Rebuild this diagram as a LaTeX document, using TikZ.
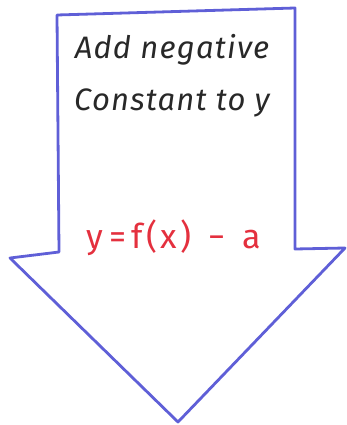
\documentclass[tikz,border=0pt]{standalone}
\usepackage{fontspec}
\setmainfont{Fira Sans}
\newfontfamily\wide[LetterSpace=4]{Fira Sans}
\newfontfamily\wider[LetterSpace=10]{Fira Sans}
\definecolor{penblue}{RGB}{95,95,215}
\definecolor{penred}{RGB}{228,48,62}
\definecolor{ink}{RGB}{40,40,40}
\begin{document}
\begin{tikzpicture}[x=1pt,y=-1pt,
  outline/.style={draw=penblue,line width=2.8pt,line join=round,line cap=round},
  label/.style={text=ink,font=\wide\fontsize{31}{36}\selectfont\itshape,inner sep=0pt},
  formula/.style={text=penred,font=\wider\fontsize{34}{38}\selectfont,inner sep=0pt}]
\useasboundingbox (0,0) rectangle (347,425);
\coordinate (tl) at (57,15);
\coordinate (tr) at (295,8);
\coordinate (rs) at (295,249);
\coordinate (rw) at (345,248);
\coordinate (tip) at (178,422);
\coordinate (lw) at (10,258);
\coordinate (ls) at (59,252);
\draw[outline] (tl) -- (tr) -- (rs) -- (rw) -- (tip) -- (lw) -- (ls) -- cycle;
\node[label] (l1) at (172,50) {Add negative};
\node[label] (l2) at (172,103) {Constant to y};
\node[formula] (f) at (174,238) {y\,=\,f(x)\enspace−\enspace a};
\end{tikzpicture}
\end{document}
